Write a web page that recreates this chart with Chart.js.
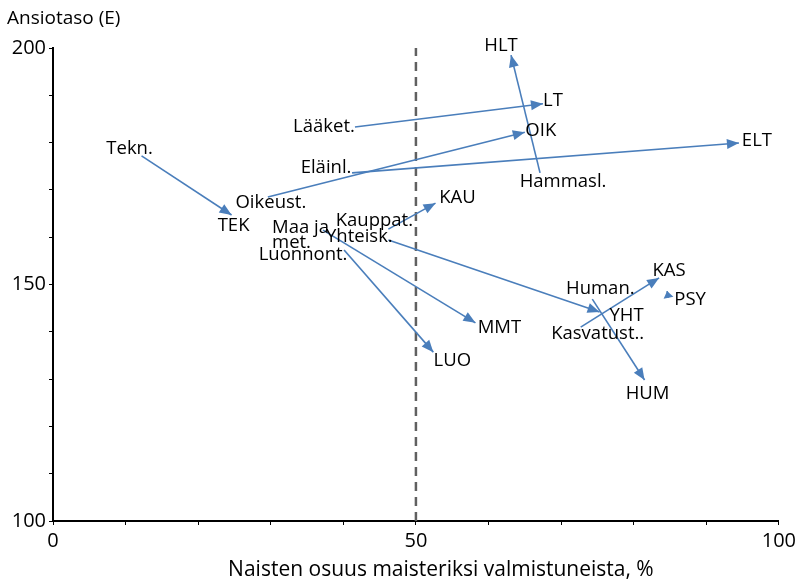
<!DOCTYPE html>
<html>
<head>
<meta charset="utf-8">
<script src="https://cdn.jsdelivr.net/npm/chart.js@4"></script>
<style>
  html, body { margin: 0; padding: 0; background: #fff; }
  #wrap { width: 800px; height: 581px; }
</style>
</head>
<body>
<div id="wrap"><canvas id="arrowChart"></canvas></div>
<script>
// vanha koulutusala -> uusi koulutusala
const oldFields = ['Tekn.', 'Lääket.', 'Oikeust.', 'Eläinl.', 'Hammasl.', 'Kauppat.', 'Yhteisk.', ['Maa ja', 'met.'], 'Luonnont.', 'Human.', 'Kasvatust..', ''];
const newFields = ['TEK', 'LT', 'OIK', 'ELT', 'HLT', 'KAU', 'YHT', 'MMT', 'LUO', 'HUM', 'KAS', 'PSY'];
// naisten osuus (%) alussa ja lopussa
const shareStart = [12.2, 41.6, 29.6, 41.2, 67.1, 46.2, 46.2, 37.2, 40.1, 74.3, 72.7, 84.8];
const shareEnd = [24.6, 67.5, 65.0, 94.5, 63.1, 52.7, 75.3, 58.2, 52.4, 81.5, 83.5, 84.6];
// ansiotaso alussa ja lopussa
const wageStart = [177.2, 183.3, 168.5, 173.6, 173.6, 161.7, 159.4, 161.5, 157.3, 146.9, 141.0, 147.2];
const wageEnd = [164.7, 188.2, 182.2, 179.9, 198.5, 167.2, 144.2, 141.9, 135.7, 129.8, 151.4, 148.6];
const yTickLabels = [100, 150, 200];
const xTickLabels = [0, 50, 100];
const referenceShare = 50;
const xTitle = 'Naisten osuus maisteriksi valmistuneista, %';

// tekstien paikat pikseleinä suhteessa nuolen alku-/loppupisteeseen
const startLabelPos = [[-12, -8, 'center'], [-31, -1, 'center'], [3, 5, 'center'], [-26, -6, 'center'], [23, 8, 'center'],
  [-14, -9, 'center'], [-29, -4, 'center'], [-51, -3, 'left'], [-41, 4, 'center'], [8, -11, 'center'], [17, 6, 'center'], [0, 0, 'center']];
const endLabelPos = [[2, 10], [10, -4], [16, -2], [18, -3], [-10, -10], [22, -6], [27, 3], [24, 4], [19, 8], [3, 13], [10, -8], [23, 8]];

const arrowColor = '#4a7ebb';
const fontFamily = "'Open Sans', 'Noto Sans', sans-serif";

const datasets = newFields.map((name, i) => ({
    label: name,
    data: [{ x: shareStart[i], y: wageStart[i] }, { x: shareEnd[i], y: wageEnd[i] }],
    showLine: true,
    borderColor: arrowColor,
    borderWidth: 1.6,
    pointRadius: 0
}));
datasets.push({
    label: 'ref',
    data: [{ x: referenceShare, y: 100 }, { x: referenceShare, y: 200 }],
    showLine: true,
    borderColor: '#606060',
    borderWidth: 2.5,
    borderDash: [9, 6],
    pointRadius: 0
});

// nuolenkärjet, nimet ja x-akselin otsikko
const arrowPlugin = {
    id: 'arrowLabels',
    afterDatasetsDraw(chart) {
        const ctx = chart.ctx;
        const xs = chart.scales.x, ys = chart.scales.y;
        ctx.save();
        newFields.forEach((name, i) => {
            const x0 = xs.getPixelForValue(shareStart[i]), y0 = ys.getPixelForValue(wageStart[i]);
            const x1 = xs.getPixelForValue(shareEnd[i]), y1 = ys.getPixelForValue(wageEnd[i]);
            const len = Math.hypot(x1 - x0, y1 - y0);
            const ux = (x1 - x0) / len, uy = (y1 - y0) / len;
            const headLen = Math.min(12, len), half = 5;
            ctx.fillStyle = arrowColor;
            ctx.beginPath();
            ctx.moveTo(x1, y1);
            ctx.lineTo(x1 - ux * headLen - uy * half, y1 - uy * headLen + ux * half);
            ctx.lineTo(x1 - ux * headLen + uy * half, y1 - uy * headLen - ux * half);
            ctx.closePath();
            ctx.fill();

            ctx.fillStyle = '#000';
            ctx.font = '18.5px ' + fontFamily;
            ctx.textBaseline = 'middle';
            ctx.textAlign = 'center';
            ctx.fillText(name, x1 + endLabelPos[i][0], y1 + endLabelPos[i][1] + 1);
            const lines = [].concat(oldFields[i]);
            ctx.textAlign = startLabelPos[i][2];
            lines.forEach((t, k) => {
                ctx.fillText(t, x0 + startLabelPos[i][0], y0 + startLabelPos[i][1] + 1 + k * 15);
            });
        });
        // akselin otsikko hieman keskeltä oikealle kuten alkuperäisessä
        const area = chart.chartArea;
        ctx.font = '21px ' + fontFamily;
        ctx.textAlign = 'center';
        ctx.fillText(xTitle, (area.left + area.right) / 2 + 25, 570);
        ctx.restore();
    }
};

new Chart(document.getElementById('arrowChart'), {
    type: 'scatter',
    data: { datasets: datasets },
    options: {
        responsive: true,
        maintainAspectRatio: false,
        animation: false,
        layout: { padding: { left: 7, right: 18, top: 0, bottom: 0 } },
        plugins: {
            legend: { display: false },
            tooltip: { enabled: false },
            title: {
                display: true,
                text: 'Ansiotaso (E)',
                align: 'start',
                color: '#000',
                font: { family: fontFamily, size: 19, weight: 'normal' },
                padding: { top: 7, bottom: 18.2 }
            }
        },
        scales: {
            x: {
                type: 'linear',
                min: 0,
                max: 100,
                afterFit: (scale) => { scale.height = 60; },
                ticks: {
                    stepSize: 10,
                    autoSkip: false,
                    maxRotation: 0,
                    padding: 4,
                    color: '#000',
                    font: { family: fontFamily, size: 20 },
                    callback: (v) => xTickLabels.includes(v) ? v : ''
                },
                grid: { drawOnChartArea: false, drawTicks: true, tickLength: 4, color: '#000' },
                border: { color: '#000', width: 2 }
            },
            y: {
                type: 'linear',
                min: 100,
                max: 200,
                afterFit: (scale) => { scale.width = 46; },
                ticks: {
                    stepSize: 10,
                    autoSkip: false,
                    padding: 3,
                    color: '#000',
                    font: { family: fontFamily, size: 20 },
                    callback: (v) => yTickLabels.includes(v) ? v : ''
                },
                grid: { drawOnChartArea: false, drawTicks: true, tickLength: 4, color: '#000' },
                border: { color: '#000', width: 2 }
            }
        }
    },
    plugins: [arrowPlugin]
});
</script>
</body>
</html>
